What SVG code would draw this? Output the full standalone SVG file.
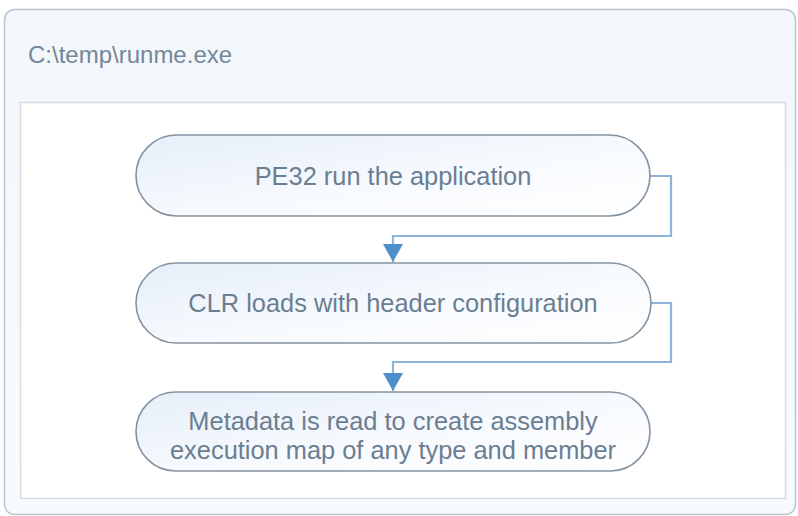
<svg xmlns="http://www.w3.org/2000/svg" width="798" height="516" viewBox="0 0 798 516">
  <defs>
    <linearGradient id="outerFill" x1="0" y1="0" x2="0" y2="1">
      <stop offset="0" stop-color="#f3f7fb"/>
      <stop offset="1" stop-color="#f8fbfe"/>
    </linearGradient>
    <linearGradient id="nodeFill" x1="0" y1="0" x2="1" y2="1">
      <stop offset="0" stop-color="#e6eef9"/>
      <stop offset="0.55" stop-color="#f7fafe"/>
      <stop offset="1" stop-color="#ffffff"/>
    </linearGradient>
    <marker id="arrow" viewBox="0 0 18 20" refX="18" refY="10" markerWidth="18" markerHeight="20" markerUnits="userSpaceOnUse" orient="auto">
      <path d="M0,0 L18,10 L0,20 Z" fill="#4d8fca"/>
    </marker>
    <style>
      .node { fill: url(#nodeFill); stroke: #8593a0; stroke-width: 1.6; }
      .label { font-family: "Liberation Sans", Arial, sans-serif; font-size: 25.4px; fill: #6b7e91; text-anchor: middle; }
      .title { font-family: "Liberation Sans", Arial, sans-serif; font-size: 24px; fill: #73879a; }
      .conn { fill: none; stroke: #8db5da; stroke-width: 2.2; }
    </style>
  </defs>

  <g id="container">
    <rect x="4.5" y="9.5" width="791" height="505" rx="10" fill="url(#outerFill)" stroke="#b9c5cf" stroke-width="1.5"/>
    <text class="title" x="28" y="63">C:\temp\runme.exe</text>
    <rect x="20.5" y="102.5" width="765" height="396" fill="#ffffff" stroke="#d6dce2" stroke-width="1.5"/>
  </g>

  <g id="connectors">
    <path class="conn" d="M650,176 H671 V236 H393 V262" marker-end="url(#arrow)"/>
    <path class="conn" d="M651,303 H671 V362 H393 V391" marker-end="url(#arrow)"/>
  </g>

  <g id="node1">
    <rect class="node" x="136" y="135" width="514" height="81" rx="40.5"/>
    <text class="label" x="393" y="185">PE32 run the application</text>
  </g>

  <g id="node2">
    <rect class="node" x="136" y="263" width="515" height="80" rx="40"/>
    <text class="label" x="393" y="312">CLR loads with header configuration</text>
  </g>

  <g id="node3">
    <rect class="node" x="136" y="392" width="514" height="79" rx="39.5"/>
    <text class="label" x="393" y="430">Metadata is read to create assembly</text>
    <text class="label" x="393" y="459">execution map of any type and member</text>
  </g>
</svg>
